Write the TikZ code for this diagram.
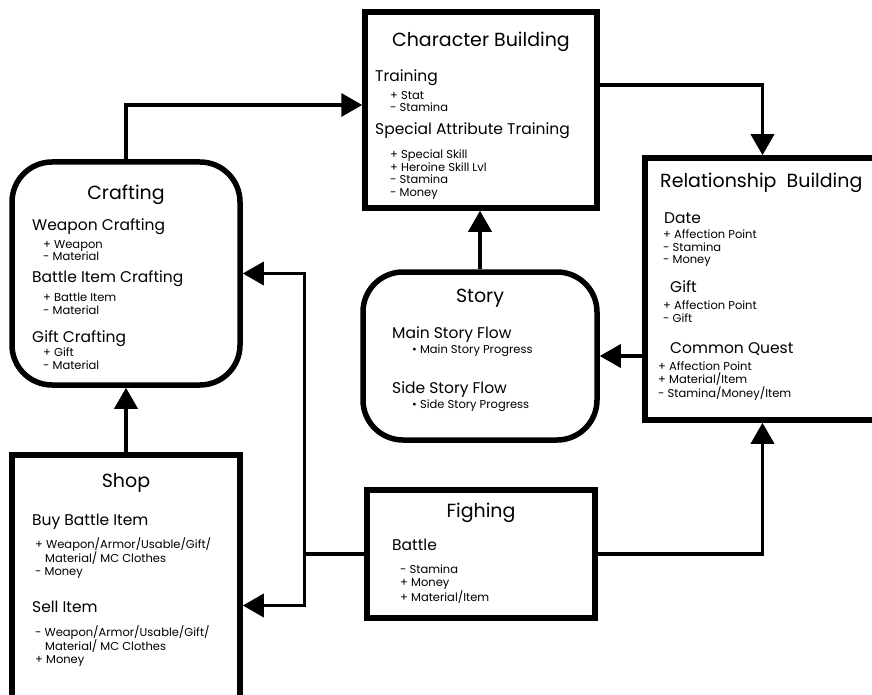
\documentclass[tikz,border=0pt]{standalone}
\usepackage{fontspec}
\setmainfont{Poppins}
\usetikzlibrary{positioning,arrows.meta}
\newcommand{\titlefont}{\fontsize{19}{22}\selectfont}
\newcommand{\headfont}{\fontsize{15.5}{18}\selectfont}
\newcommand{\itemfont}{\fontsize{11.5}{12.5}\selectfont}

\begin{document}
\begin{tikzpicture}[x=1pt, y=-1pt,
  box/.style={draw, line width=5.5pt, fill=white},
  roundbox/.style={box, rounded corners=40pt},
  boxtitle/.style={font=\titlefont, anchor=base, inner sep=0pt},
  head/.style={font=\headfont, anchor=base west, inner sep=0pt},
  items/.style={font=\itemfont, align=left, anchor=north west, inner sep=0pt},
  conn/.style={line width=3.5pt},
  arr/.style={conn, -{Triangle[length=21pt, width=23pt]}}
]
  \clip (0,0) rectangle (872,695);

  % boxes
  \node[box, minimum width=232pt, minimum height=196pt] (cb) at (481,110) {};
  \node[roundbox, minimum width=228pt, minimum height=223pt] (cr) at (126,273.5) {};
  \node[box, minimum width=235pt, minimum height=262pt] (rb) at (762.5,289) {};
  \node[roundbox, minimum width=234pt, minimum height=168pt] (st) at (480,356) {};
  \node[box, minimum width=228pt, minimum height=255pt] (sh) at (126,582.5) {};
  \node[box, minimum width=228pt, minimum height=128pt] (fg) at (481,554) {};

  % Character Building
  \node[boxtitle] (cb-title) at (481,47) {Character Building};
  \node[head] (cb-h1) at (375,82) {Training};
  \node[items] (cb-i1) at (390,91) {+ Stat\\- Stamina};
  \node[head] (cb-h2) at (375,135) {Special Attribute Training};
  \node[items] (cb-i2) at (390,150) {+ Special Skill\\+ Heroine Skill Lvl\\- Stamina\\- Money};

  % Crafting
  \node[boxtitle] (cr-title) at (126,200) {Crafting};
  \node[head] (cr-h1) at (32,230) {Weapon Crafting};
  \node[items] (cr-i1) at (43,240) {+ Weapon\\- Material};
  \node[head] (cr-h2) at (32,282) {Battle Item Crafting};
  \node[items] (cr-i2) at (43,293) {+ Battle Item\\- Material};
  \node[head] (cr-h3) at (32,342) {Gift Crafting};
  \node[items] (cr-i3) at (43,348) {+ Gift\\- Material};

  % Relationship Building
  \node[boxtitle, anchor=base west] (rb-title) at (660,188) {Relationship\ \ Building};
  \node[head] (rb-h1) at (664,223) {Date};
  \node[items] (rb-i1) at (663,230) {+ Affection Point\\- Stamina\\- Money};
  \node[head] (rb-h2) at (670,292) {Gift};
  \node[items] (rb-i2) at (663,301) {+ Affection Point\\- Gift};
  \node[head] (rb-h3) at (670,353) {Common Quest};
  \node[items] (rb-i3) at (658,362) {+ Affection Point\\+ Material/Item\\- Stamina/Money/Item};

  % Story
  \node[boxtitle] (st-title) at (480,302) {Story};
  \node[head] (st-h1) at (392,338) {Main Story Flow};
  \node[items] (st-i1) at (412,345) {\textbullet\ Main Story Progress};
  \node[head] (st-h2) at (392,393) {Side Story Flow};
  \node[items] (st-i2) at (412,400) {\textbullet\ Side Story Progress};

  % Shop
  \node[boxtitle] (sh-title) at (126,487) {Shop};
  \node[head] (sh-h1) at (32,525) {Buy Battle Item};
  \node[items] (sh-i1) at (35,537) {+ Weapon/Armor/Usable/Gift/\\\hspace*{10pt}Material/ MC Clothes\\- Money};
  \node[head] (sh-h2) at (32,612) {Sell Item};
  \node[items] (sh-i2) at (35,625) {- Weapon/Armor/Usable/Gift/\\\hspace*{10pt}Material/ MC Clothes\\+ Money};

  % Fighing
  \node[boxtitle] (fg-title) at (481,517) {Fighing};
  \node[head] (fg-h1) at (392,550) {Battle};
  \node[items] (fg-i1) at (400,565) {- Stamina\\+ Money\\+ Material/Item};

  % connectors
  \draw[arr] (cr.north) |- ([yshift=5pt]cb.west);
  \draw[arr] ([yshift=25pt]cb.east) -| (rb.north);
  \draw[arr] (st.north) -- (st.north |- cb.south);
  \draw[arr] (rb.west |- st.east) -- (st.east);
  \draw[arr] (fg.east) -| (rb.south);
  \coordinate[left=60pt of fg.west] (fork);
  \draw[conn] (fg.west) -- (fork);
  \draw[arr] (fork) |- (cr.east);
  \draw[arr] (fork) |- ([yshift=-23pt]sh.east);
  \draw[arr] (sh.north) -- (cr.south);
\end{tikzpicture}
\end{document}
